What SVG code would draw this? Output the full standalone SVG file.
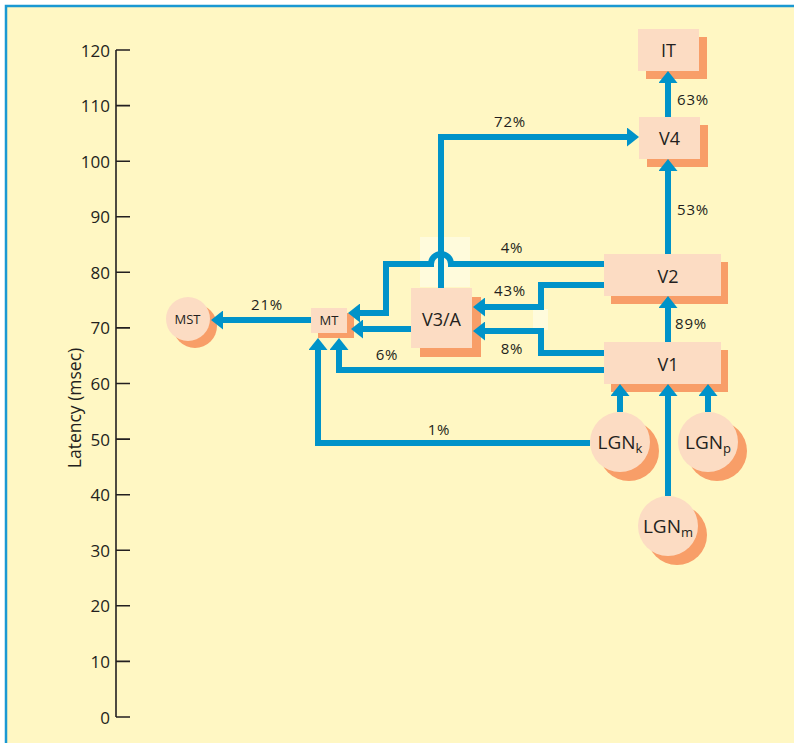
<svg xmlns="http://www.w3.org/2000/svg" width="794" height="743" viewBox="0 0 794 743">
  <defs>
    <style>
      text { font-family: "Open Sans", "Noto Sans", "DejaVu Sans", sans-serif; fill: #231f20; }
      .ax { font-size: 17px; text-anchor: end; }
      .pct { font-size: 15px; text-anchor: middle; letter-spacing: 0.8px; }
      .lbl { font-size: 18px; text-anchor: middle; }
      .sm { font-size: 13px; text-anchor: middle; }
      .lgn { font-size: 19px; text-anchor: middle; }
      .box { fill: #fcdcc3; }
      .shadow { fill: #f89e68; }
      .wire { fill: none; stroke: #0093c9; stroke-width: 6; stroke-linejoin: miter; }
      .arr { marker-end: url(#head); }
      .tick { stroke: #231f20; stroke-width: 1.6; fill: none; }
      .patch { fill: #fffbdc; }
    </style>
    <marker id="head" viewBox="0 0 12 19" refX="0" refY="9.5" markerWidth="12" markerHeight="19" markerUnits="userSpaceOnUse" orient="auto">
      <path d="M0,0 L12,9.5 L0,19 Z" fill="#0093c9"/>
    </marker>
  </defs>

  <!-- page -->
  <rect x="0" y="0" width="794" height="743" fill="#ffffff"/>
  <rect x="6" y="6" width="788" height="737" fill="#fff7c3"/>
  <path d="M6,743 V6 H794" fill="none" stroke="#1a98d2" stroke-width="2.5"/>

  <!-- latency axis -->
  <g id="axis">
    <path class="tick" d="M116,50 V717"/>
    <path class="tick" d="M116,50 H130 M116,105.6 H130 M116,161.2 H130 M116,216.8 H130 M116,272.3 H130 M116,327.9 H130 M116,383.5 H130 M116,439.1 H130 M116,494.7 H130 M116,550.3 H130 M116,605.8 H130 M116,661.4 H130 M116,717 H130"/>
    <text class="ax" x="110" y="56.5">120</text>
    <text class="ax" x="110" y="112">110</text>
    <text class="ax" x="110" y="167.7">100</text>
    <text class="ax" x="110" y="223.3">90</text>
    <text class="ax" x="110" y="278.8">80</text>
    <text class="ax" x="110" y="334.4">70</text>
    <text class="ax" x="110" y="390">60</text>
    <text class="ax" x="110" y="445.6">50</text>
    <text class="ax" x="110" y="501.2">40</text>
    <text class="ax" x="110" y="556.8">30</text>
    <text class="ax" x="110" y="612.3">20</text>
    <text class="ax" x="110" y="667.9">10</text>
    <text class="ax" x="110" y="723.5">0</text>
    <text x="81" y="408" font-size="17.5" text-anchor="middle" transform="rotate(-90 81 408)">Latency (msec)</text>
  </g>

  <!-- light patches behind crossings -->
  <rect class="patch" x="420" y="237" width="50" height="50"/>
  <rect class="patch" x="533" y="309" width="15" height="21"/>

  <!-- areas -->
  <g id="IT">
    <rect class="shadow" x="646" y="37" width="61" height="42"/>
    <rect class="box" x="638" y="29" width="61" height="42"/>
    <text class="lbl" x="668.5" y="56.5">IT</text>
  </g>
  <g id="V4">
    <rect class="shadow" x="647" y="125" width="61" height="42"/>
    <rect class="box" x="639" y="117" width="61" height="42"/>
    <text class="lbl" x="669.5" y="144.5">V4</text>
  </g>
  <g id="V2">
    <rect class="shadow" x="611" y="262" width="117" height="42"/>
    <rect class="box" x="604" y="254" width="117" height="42"/>
    <text class="lbl" x="668" y="282.5">V2</text>
  </g>
  <g id="V1">
    <rect class="shadow" x="611" y="350" width="117" height="42"/>
    <rect class="box" x="604" y="342" width="117" height="42"/>
    <text class="lbl" x="668" y="370.5">V1</text>
  </g>
  <g id="V3A">
    <rect class="shadow" x="420" y="297" width="61" height="60"/>
    <rect class="box" x="411" y="288" width="61" height="60"/>
    <text class="lbl" x="441.5" y="325.5">V3/A</text>
  </g>
  <g id="MT">
    <rect class="shadow" x="318" y="313" width="36" height="25"/>
    <rect class="box" x="311" y="308" width="36" height="25"/>
    <text class="sm" x="329" y="325">MT</text>
  </g>
  <g id="MST">
    <circle class="shadow" cx="195" cy="326" r="22"/>
    <circle class="box" cx="188" cy="319" r="22"/>
    <text class="sm" x="187.5" y="324">MST</text>
  </g>
  <g id="LGNk">
    <circle class="shadow" cx="629" cy="451" r="30"/>
    <circle class="box" cx="620" cy="442" r="30"/>
    <text class="lgn" x="620" y="449">LGN<tspan font-size="13" dy="4">k</tspan></text>
  </g>
  <g id="LGNp">
    <circle class="shadow" cx="717" cy="451" r="30"/>
    <circle class="box" cx="708" cy="442" r="30"/>
    <text class="lgn" x="708" y="449">LGN<tspan font-size="13" dy="4">p</tspan></text>
  </g>
  <g id="LGNm">
    <circle class="shadow" cx="677" cy="535" r="30"/>
    <circle class="box" cx="668" cy="526" r="30"/>
    <text class="lgn" x="668" y="533">LGN<tspan font-size="13" dy="4">m</tspan></text>
  </g>

  <!-- connectors, drawn over the area shadows -->
  <g id="connectors">
    <!-- V4 -> IT -->
    <path class="wire arr" d="M668,117 V83"/>
    <!-- V2 -> V4 -->
    <path class="wire arr" d="M668,254 V171"/>
    <!-- V1 -> V2 -->
    <path class="wire arr" d="M668,342 V308"/>
    <!-- LGN inputs -> V1 -->
    <path class="wire arr" d="M620,412 V396"/>
    <path class="wire arr" d="M708,412 V396"/>
    <path class="wire arr" d="M668,496 V396"/>
    <!-- V3/A -> V4 (72%) -->
    <path class="wire arr" d="M441,288 V137 H627"/>
    <!-- V2 -> MT (4%), hopping over the V3/A riser -->
    <path class="wire arr" d="M604,264 H451 A10,10 0 0 0 431,264 H386 V313 H360"/>
    <!-- V2 -> V3/A (43%) -->
    <path class="wire arr" d="M604,285 H541 V307 H485"/>
    <!-- V1 -> V3/A (8%) -->
    <path class="wire arr" d="M604,353 H541 V331 H485"/>
    <!-- V3/A -> MT -->
    <path class="wire arr" d="M411,329 H363"/>
    <!-- V1 -> MT (6%) -->
    <path class="wire arr" d="M604,370 H339 V350"/>
    <!-- LGNk -> MT (1%) -->
    <path class="wire arr" d="M590,443 H318 V350"/>
    <!-- MT -> MST (21%) -->
    <path class="wire arr" d="M311,320 H223"/>
  </g>

  <!-- connector labels -->
  <g id="edge-labels">
    <text class="pct" x="510" y="127">72%</text>
    <text class="pct" x="693" y="105">63%</text>
    <text class="pct" x="693" y="215">53%</text>
    <text class="pct" x="512" y="253">4%</text>
    <text class="pct" x="510" y="296">43%</text>
    <text class="pct" x="691" y="329">89%</text>
    <text class="pct" x="512" y="354">8%</text>
    <text class="pct" x="387" y="360">6%</text>
    <text class="pct" x="439" y="435">1%</text>
    <text class="pct" x="267" y="310">21%</text>
  </g>
</svg>
